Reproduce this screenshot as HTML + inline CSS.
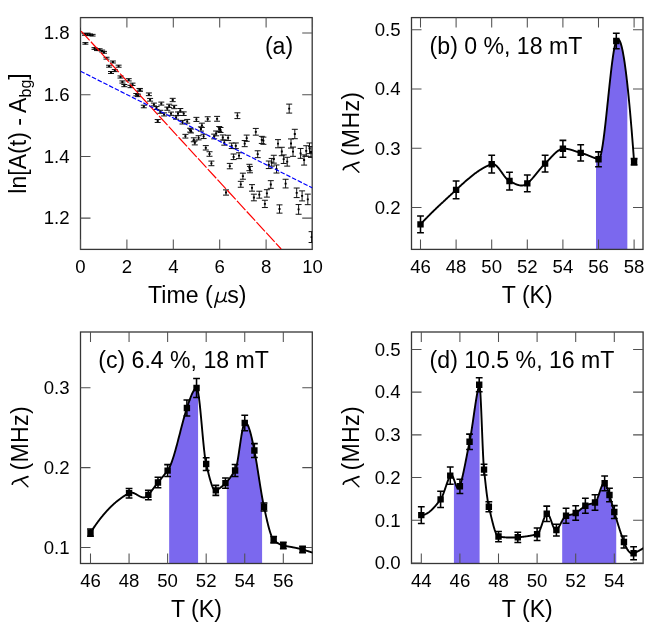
<!DOCTYPE html>
<html><head><meta charset="utf-8"><title>figure</title>
<style>html,body{margin:0;padding:0;background:#fff}svg{display:block;will-change:transform}text{font-family:"Liberation Sans", sans-serif;fill:#000}</style>
</head><body>
<svg width="664" height="631" viewBox="0 0 664 631">
<rect width="664" height="631" fill="#fff"/>
<rect x="80.5" y="17.6" width="231.7" height="231.8" fill="none" stroke="#363636" stroke-width="1.3"/>
<path d="M80.5 249.4v-10M80.5 17.6v10M126.9 249.4v-10M126.9 17.6v10M173.3 249.4v-10M173.3 17.6v10M219.7 249.4v-10M219.7 17.6v10M266.1 249.4v-10M266.1 17.6v10M312.5 249.4v-10M312.5 17.6v10M80.5 218.13h10M312.2 218.13h-10M80.5 156.4h10M312.2 156.4h-10M80.5 94.66h10M312.2 94.66h-10M80.5 32.93h10M312.2 32.93h-10" stroke="#505050" stroke-width="1.05" fill="none"/>
<g font-size="18.6" fill="#000">
<text x="80.5" y="273.2" text-anchor="middle">0</text>
<text x="126.9" y="273.2" text-anchor="middle">2</text>
<text x="173.3" y="273.2" text-anchor="middle">4</text>
<text x="219.7" y="273.2" text-anchor="middle">6</text>
<text x="266.1" y="273.2" text-anchor="middle">8</text>
<text x="312.5" y="273.2" text-anchor="middle">10</text>
<text x="69.5" y="224.38" text-anchor="end">1.2</text>
<text x="69.5" y="162.65" text-anchor="end">1.4</text>
<text x="69.5" y="100.91" text-anchor="end">1.6</text>
<text x="69.5" y="39.18" text-anchor="end">1.8</text>
</g>
<text x="212.6" y="302.7" font-size="23.1" text-anchor="end">Time (</text>
<g fill="none" stroke="#000" stroke-linecap="round">
<path d="M218.3 292.5L214.7 307.2" stroke-width="1.5"/>
<path d="M216.9 299.3Q217 302.3 219.9 302.1Q223.3 301.8 224.7 297.8" stroke-width="1.3"/>
<path d="M225.9 292.5L224.4 299.4Q224 302 226.7 301.4" stroke-width="1.3"/>
</g>
<text x="227.3" y="302.7" font-size="23.1">s)</text>
<text transform="translate(26.2 133.5) rotate(-90)" font-size="23.1" text-anchor="middle">ln[A(t) - A<tspan font-size="16" dy="5">bg</tspan><tspan dy="-5">]</tspan></text>
<clipPath id="ca"><rect x="80.5" y="17.6" width="231.7" height="231.8"/></clipPath>
<g clip-path="url(#ca)">
<path d="M85 33.72V35.28M82 33.72h6M82 35.28h6M87.5 33.7V35.3M84.5 33.7h6M84.5 35.3h6M90 33.98V35.62M87 33.98h6M87 35.62h6M92.6 34.36V36.04M89.6 34.36h6M89.6 36.04h6M85.4 42.61V44.19M82.4 42.61h6M82.4 44.19h6M94.5 47.65V49.35M91.5 47.65h6M91.5 49.35h6M97 48.83V50.57M94 48.83h6M94 50.57h6M99.6 48.81V50.59M96.6 48.81h6M96.6 50.59h6M102.1 50.09V51.91M99.1 50.09h6M99.1 51.91h6M104 51.38V53.22M101 51.38h6M101 53.22h6M106.5 57.26V59.14M103.5 57.26h6M103.5 59.14h6M112.9 61.01V62.99M109.9 61.01h6M109.9 62.99h6M109.1 65.24V67.16M106.1 65.24h6M106.1 67.16h6M118.6 65.16V67.24M115.6 65.16h6M115.6 67.24h6M114.8 69.59V71.61M111.8 69.59h6M111.8 71.61h6M111 71.52V73.48M108 71.52h6M108 73.48h6M120.5 75.94V78.06M117.5 75.94h6M117.5 78.06h6M128.7 78.66V80.94M125.7 78.66h6M125.7 80.94h6M122.4 80.92V83.08M119.4 80.92h6M119.4 83.08h6M124.3 84.5V86.7M121.3 84.5h6M121.3 86.7h6M132.5 83.13V85.47M129.5 83.13h6M129.5 85.47h6M130.5 85.35V87.65M127.5 85.35h6M127.5 87.65h6M139.5 88.45V90.95M136.5 88.45h6M136.5 90.95h6M136.3 93.49V95.91M133.3 93.49h6M133.3 95.91h6M138 94.17V96.63M135 94.17h6M135 96.63h6M140 88.75V91.25M137 88.75h6M137 91.25h6M148.9 92.95V95.65M145.9 92.95h6M145.9 95.65h6M150.1 98.43V101.17M147.1 98.43h6M147.1 101.17h6M143.8 105.21V107.79M140.8 105.21h6M140.8 107.79h6M153.9 103.09V105.91M150.9 103.09h6M150.9 105.91h6M156.5 106.56V109.44M153.5 106.56h6M153.5 109.44h6M161.3 102.1V105.1M158.3 102.1h6M158.3 105.1h6M157.7 119.54V122.46M154.7 119.54h6M154.7 122.46h6M160.3 110.31V113.29M157.3 110.31h6M157.3 113.29h6M164.1 112.86V115.94M161.1 112.86h6M161.1 115.94h6M167.3 107.12V110.28M164.3 107.12h6M164.3 110.28h6M169.2 104.19V107.41M166.2 104.19h6M166.2 107.41h6M172.7 98.34V101.66M169.7 98.34h6M169.7 101.66h6M171 112.07V115.33M168 112.07h6M168 115.33h6M174.2 105.32V108.68M171.2 105.32h6M171.2 108.68h6M176.1 115.79V119.21M173.1 115.79h6M173.1 119.21h6M178 111.97V115.43M175 111.97h6M175 115.43h6M180.3 108.53V112.07M177.3 108.53h6M177.3 112.07h6M183.7 111.88V115.52M180.7 111.88h6M180.7 115.52h6M182.5 120.4V124M179.5 120.4h6M179.5 124h6M187.2 119.43V123.17M184.2 119.43h6M184.2 123.17h6M185.4 134.35V138.05M182.4 134.35h6M182.4 138.05h6M190.1 128.28V132.12M187.1 128.28h6M187.1 132.12h6M191 129.06V132.94M188 129.06h6M188 132.94h6M193.8 137.82V141.78M190.8 137.82h6M190.8 141.78h6M194.8 140.9V144.9M191.8 140.9h6M191.8 144.9h6M196.4 117.37V121.43M193.4 117.37h6M193.4 121.43h6M198.6 135.73V139.87M195.6 135.73h6M195.6 139.87h6M200.9 126.89V131.11M197.9 126.89h6M197.9 131.11h6M201.9 123.17V127.43M198.9 123.17h6M198.9 127.43h6M203.6 134.24V138.56M200.6 134.24h6M200.6 138.56h6M205.8 145.6V150M202.8 145.6h6M202.8 150h6M207.7 116.77V121.23M204.7 116.77h6M204.7 121.23h6M214.2 134.14V138.86M211.2 134.14h6M211.2 138.86h6M216.1 131V135.8M213.1 131h6M213.1 135.8h6M217.1 116.38V121.22M214.1 116.38h6M214.1 121.22h6M219.2 126.54V131.46M216.2 126.54h6M216.2 131.46h6M220.5 127.51V132.49M217.5 127.51h6M217.5 132.49h6M209.5 151.73V156.27M206.5 151.73h6M206.5 156.27h6M211.4 161.09V165.71M208.4 161.09h6M208.4 165.71h6M222.8 134.96V140.04M219.8 134.96h6M219.8 140.04h6M228.1 135.24V140.56M225.1 135.24h6M225.1 140.56h6M224.3 140.03V145.17M221.3 140.03h6M221.3 145.17h6M231.7 143.06V148.54M228.7 143.06h6M228.7 148.54h6M235.8 142.96V148.64M232.8 142.96h6M232.8 148.64h6M233.6 154.01V159.59M230.6 154.01h6M230.6 159.59h6M239 152.78V158.62M236 152.78h6M236 158.62h6M229.8 163.4V168.8M226.8 163.4h6M226.8 168.8h6M237.4 112.82V118.58M234.4 112.82h6M234.4 118.58h6M246.7 135.08V141.32M243.7 135.08h6M243.7 141.32h6M244.7 140.54V146.66M241.7 140.54h6M241.7 146.66h6M255.8 128.43V135.17M252.8 128.43h6M252.8 135.17h6M261.8 136.35V143.45M258.8 136.35h6M258.8 143.45h6M263.4 137.1V144.3M260.4 137.1h6M260.4 144.3h6M257.7 150.77V157.63M254.7 150.77h6M254.7 157.63h6M249.4 164.31V170.69M246.4 164.31h6M246.4 170.69h6M250 166.39V172.81M247 166.39h6M247 172.81h6M268.8 161.03V168.57M265.8 161.03h6M265.8 168.57h6M273.8 155.27V163.13M270.8 155.27h6M270.8 163.13h6M278 139.63V147.77M275 139.63h6M275 147.77h6M289.2 104.12V113.08M286.2 104.12h6M286.2 113.08h6M294.8 129.3V138.7M291.8 129.3h6M291.8 138.7h6M291 138.95V148.05M288 138.95h6M288 148.05h6M281.8 147.29V155.71M278.8 147.29h6M278.8 155.71h6M293 147.07V156.33M290 147.07h6M290 156.33h6M271.7 158.44V166.16M268.7 158.44h6M268.7 166.16h6M283.7 154.92V163.48M280.7 154.92h6M280.7 163.48h6M287.2 157.29V166.11M284.2 157.29h6M284.2 166.11h6M300.6 148.46V158.34M297.6 148.46h6M297.6 158.34h6M304.1 154.91V165.09M301.1 154.91h6M301.1 165.09h6M306.2 145.72V156.08M303.2 145.72h6M303.2 156.08h6M309.5 142.97V153.63M306.5 142.97h6M306.5 153.63h6M311 146.6V157.4M308 146.6h6M308 157.4h6M276.5 164.98V173.02M273.5 164.98h6M273.5 173.02h6M226 189.89V195.11M223 189.89h6M223 195.11h6M242.9 173.18V179.22M239.9 173.18h6M239.9 179.22h6M240.8 181.34V187.26M237.8 181.34h6M237.8 187.26h6M252 184.64V191.16M249 184.64h6M249 191.16h6M253.9 194.18V200.82M250.9 194.18h6M250.9 200.82h6M259.3 191.23V198.17M256.3 191.23h6M256.3 198.17h6M266.9 189.69V197.11M263.9 189.69h6M263.9 197.11h6M270.8 180.67V188.33M267.8 180.67h6M267.8 188.33h6M264.9 200.26V207.54M261.9 200.26h6M261.9 207.54h6M279.5 204.87V213.13M276.5 204.87h6M276.5 213.13h6M285.6 179.25V187.95M282.6 179.25h6M282.6 187.95h6M296.7 188.02V197.58M293.7 188.02h6M293.7 197.58h6M302.1 190.89V200.91M299.1 190.89h6M299.1 200.91h6M307.8 194.14V204.66M304.8 194.14h6M304.8 204.66h6M298.6 204.54V214.26M295.6 204.54h6M295.6 214.26h6M311.6 231.67V242.53M308.6 231.67h6M308.6 242.53h6" stroke="#111" stroke-width="1.0" fill="none"/>
<path d="M84 33.6h2v1.8h-2zM86.5 33.6h2v1.8h-2zM89 33.9h2v1.8h-2zM91.6 34.3h2v1.8h-2zM84.4 42.5h2v1.8h-2zM93.5 47.6h2v1.8h-2zM96 48.8h2v1.8h-2zM98.6 48.8h2v1.8h-2zM101.1 50.1h2v1.8h-2zM103 51.4h2v1.8h-2zM105.5 57.3h2v1.8h-2zM111.9 61.1h2v1.8h-2zM108.1 65.3h2v1.8h-2zM117.6 65.3h2v1.8h-2zM113.8 69.7h2v1.8h-2zM110 71.6h2v1.8h-2zM119.5 76.1h2v1.8h-2zM127.7 78.9h2v1.8h-2zM121.4 81.1h2v1.8h-2zM123.3 84.7h2v1.8h-2zM131.5 83.4h2v1.8h-2zM129.5 85.6h2v1.8h-2zM138.5 88.8h2v1.8h-2zM135.3 93.8h2v1.8h-2zM137 94.5h2v1.8h-2zM139 89.1h2v1.8h-2zM147.9 93.4h2v1.8h-2zM149.1 98.9h2v1.8h-2zM142.8 105.6h2v1.8h-2zM152.9 103.6h2v1.8h-2zM155.5 107.1h2v1.8h-2zM160.3 102.7h2v1.8h-2zM156.7 120.1h2v1.8h-2zM159.3 110.9h2v1.8h-2zM163.1 113.5h2v1.8h-2zM166.3 107.8h2v1.8h-2zM168.2 104.9h2v1.8h-2zM171.7 99.1h2v1.8h-2zM170 112.8h2v1.8h-2zM173.2 106.1h2v1.8h-2zM175.1 116.6h2v1.8h-2zM177 112.8h2v1.8h-2zM179.3 109.4h2v1.8h-2zM182.7 112.8h2v1.8h-2zM181.5 121.3h2v1.8h-2zM186.2 120.4h2v1.8h-2zM184.4 135.3h2v1.8h-2zM189.1 129.3h2v1.8h-2zM190 130.1h2v1.8h-2zM192.8 138.9h2v1.8h-2zM193.8 142h2v1.8h-2zM195.4 118.5h2v1.8h-2zM197.6 136.9h2v1.8h-2zM199.9 128.1h2v1.8h-2zM200.9 124.4h2v1.8h-2zM202.6 135.5h2v1.8h-2zM204.8 146.9h2v1.8h-2zM206.7 118.1h2v1.8h-2zM213.2 135.6h2v1.8h-2zM215.1 132.5h2v1.8h-2zM216.1 117.9h2v1.8h-2zM218.2 128.1h2v1.8h-2zM219.5 129.1h2v1.8h-2zM208.5 153.1h2v1.8h-2zM210.4 162.5h2v1.8h-2zM221.8 136.6h2v1.8h-2zM227.1 137h2v1.8h-2zM223.3 141.7h2v1.8h-2zM230.7 144.9h2v1.8h-2zM234.8 144.9h2v1.8h-2zM232.6 155.9h2v1.8h-2zM238 154.8h2v1.8h-2zM228.8 165.2h2v1.8h-2zM236.4 114.8h2v1.8h-2zM245.7 137.3h2v1.8h-2zM243.7 142.7h2v1.8h-2zM254.8 130.9h2v1.8h-2zM260.8 139h2v1.8h-2zM262.4 139.8h2v1.8h-2zM256.7 153.3h2v1.8h-2zM248.4 166.6h2v1.8h-2zM249 168.7h2v1.8h-2zM267.8 163.9h2v1.8h-2zM272.8 158.3h2v1.8h-2zM277 142.8h2v1.8h-2zM288.2 107.7h2v1.8h-2zM293.8 133.1h2v1.8h-2zM290 142.6h2v1.8h-2zM280.8 150.6h2v1.8h-2zM292 150.8h2v1.8h-2zM270.7 161.4h2v1.8h-2zM282.7 158.3h2v1.8h-2zM286.2 160.8h2v1.8h-2zM299.6 152.5h2v1.8h-2zM303.1 159.1h2v1.8h-2zM305.2 150h2v1.8h-2zM308.5 147.4h2v1.8h-2zM310 151.1h2v1.8h-2zM275.5 168.1h2v1.8h-2zM225 191.6h2v1.8h-2zM241.9 175.3h2v1.8h-2zM239.8 183.4h2v1.8h-2zM251 187h2v1.8h-2zM252.9 196.6h2v1.8h-2zM258.3 193.8h2v1.8h-2zM265.9 192.5h2v1.8h-2zM269.8 183.6h2v1.8h-2zM263.9 203h2v1.8h-2zM278.5 208.1h2v1.8h-2zM284.6 182.7h2v1.8h-2zM295.7 191.9h2v1.8h-2zM301.1 195h2v1.8h-2zM306.8 198.5h2v1.8h-2zM297.6 208.5h2v1.8h-2zM310.6 236.2h2v1.8h-2z" fill="#000"/>
<line x1="80.5" y1="30.46" x2="281.18" y2="249" stroke="#ff0000" stroke-width="1.2" stroke-dasharray="12.5 1.9" stroke-dashoffset="13.45"/>
<line x1="80.5" y1="71.21" x2="312.5" y2="188.01" stroke="#0000ff" stroke-width="1.2" stroke-dasharray="4.6 1.8"/>
</g>
<text x="264.9" y="53.6" font-size="23.1">(a)</text>
<clipPath id="cb"><rect x="411.5" y="17.6" width="231.5" height="231.8"/></clipPath>
<path d="M596.01 249.4L596.01 158.46L596.4 158.6L596.8 158.74L597.2 158.87L597.59 158.99L597.99 159.12L598.39 159.24L598.78 159.27L599.18 159L599.58 158.43L599.97 157.56L600.37 156.42L600.77 155.02L601.16 153.37L601.56 151.49L601.96 149.38L602.35 147.07L602.75 144.56L603.15 141.87L603.54 139.01L603.94 136L604.34 132.85L604.73 129.58L605.13 126.19L605.53 122.7L605.92 119.13L606.32 115.49L606.72 111.79L607.11 108.05L607.51 104.27L607.9 100.48L608.3 96.68L608.7 92.9L609.09 89.14L609.49 85.42L609.89 81.74L610.28 78.14L610.68 74.61L611.08 71.17L611.47 67.84L611.87 64.63L612.27 61.55L612.66 58.62L613.06 55.85L613.46 53.25L613.85 50.84L614.25 48.64L614.65 46.64L615.04 44.88L615.44 43.35L615.84 42.09L616.23 41.09L616.63 40.34L617.03 39.79L617.42 39.42L617.82 39.24L618.22 39.25L618.61 39.43L619.01 39.8L619.4 40.34L619.8 41.05L620.2 41.94L620.59 42.99L620.99 44.21L621.39 45.6L621.78 47.14L622.18 48.85L622.58 50.71L622.97 52.73L623.37 54.89L623.77 57.21L624.16 59.67L624.56 62.28L624.96 65.03L625.35 67.91L625.75 70.94L626.15 74.09L626.54 77.38L626.94 80.8L627.34 84.34L627.34 249.4z" fill="#7b68ee"/>
<rect x="411.5" y="17.6" width="231.5" height="231.8" fill="none" stroke="#363636" stroke-width="1.3"/>
<path d="M420.5 249.4v-10M420.5 17.6v10M456.1 249.4v-10M456.1 17.6v10M491.7 249.4v-10M491.7 17.6v10M527.3 249.4v-10M527.3 17.6v10M562.9 249.4v-10M562.9 17.6v10M598.5 249.4v-10M598.5 17.6v10M634.1 249.4v-10M634.1 17.6v10M411.5 207.5h10M643 207.5h-10M411.5 148.25h10M643 148.25h-10M411.5 89h10M643 89h-10M411.5 29.75h10M643 29.75h-10" stroke="#505050" stroke-width="1.05" fill="none"/>
<g font-size="18.6" fill="#000">
<text x="420.5" y="273.2" text-anchor="middle">46</text>
<text x="456.1" y="273.2" text-anchor="middle">48</text>
<text x="491.7" y="273.2" text-anchor="middle">50</text>
<text x="527.3" y="273.2" text-anchor="middle">52</text>
<text x="562.9" y="273.2" text-anchor="middle">54</text>
<text x="598.5" y="273.2" text-anchor="middle">56</text>
<text x="634.1" y="273.2" text-anchor="middle">58</text>
<text x="400.5" y="213.75" text-anchor="end">0.2</text>
<text x="400.5" y="154.5" text-anchor="end">0.3</text>
<text x="400.5" y="95.25" text-anchor="end">0.4</text>
<text x="400.5" y="36" text-anchor="end">0.5</text>
</g>
<text x="527.25" y="302.7" font-size="23.1" text-anchor="middle">T (K)</text>
<g transform="translate(0 0)" fill="none" stroke="#000" stroke-linecap="round">
<path d="M343.3 169.7Q343.5 167.7 345.6 166.9L358.9 162.3" stroke-width="1.75"/>
<path d="M352 165.7L358.9 172.3" stroke-width="1.35"/>
</g>
<text transform="translate(358.6 156.2) rotate(-90)" font-size="23.1" letter-spacing="0.35">(MHz)</text>
<path clip-path="url(#cb)" d="M420.5 224.33L420.81 223.99L421.11 223.66L421.42 223.33L421.72 223L422.03 222.67L422.33 222.34L422.64 222.02L422.94 221.69L423.25 221.37L423.56 221.04L423.86 220.72L424.17 220.4L424.47 220.08L424.78 219.76L425.08 219.44L425.39 219.12L425.69 218.8L426 218.49L426.31 218.17L426.61 217.86L426.92 217.55L427.22 217.23L427.53 216.92L427.83 216.61L428.14 216.3L428.45 215.99L428.75 215.68L429.06 215.38L429.36 215.07L429.67 214.76L429.97 214.46L430.28 214.15L430.58 213.85L430.89 213.55L431.2 213.25L431.5 212.94L431.81 212.64L432.11 212.34L432.42 212.04L432.72 211.75L433.03 211.45L433.33 211.15L433.64 210.85L433.95 210.56L434.25 210.26L434.56 209.97L434.86 209.67L435.17 209.38L435.47 209.08L435.78 208.79L436.08 208.5L436.39 208.21L436.7 207.91L437 207.62L437.31 207.33L437.61 207.04L437.92 206.75L438.22 206.46L438.53 206.17L438.83 205.89L439.14 205.6L439.45 205.31L439.75 205.02L440.06 204.74L440.36 204.45L440.67 204.16L440.97 203.88L441.28 203.59L441.58 203.31L441.89 203.02L442.2 202.74L442.5 202.45L442.81 202.17L443.11 201.88L443.42 201.6L443.72 201.31L444.03 201.03L444.34 200.75L444.64 200.46L444.95 200.18L445.25 199.9L445.56 199.62L445.86 199.33L446.17 199.05L446.47 198.77L446.78 198.49L447.09 198.2L447.39 197.92L447.7 197.64L448 197.36L448.31 197.07L448.61 196.79L448.92 196.51L449.22 196.23L449.53 195.94L449.84 195.66L450.14 195.38L450.45 195.1L450.75 194.81L451.06 194.53L451.36 194.25L451.67 193.97L451.97 193.68L452.28 193.4L452.59 193.12L452.89 192.83L453.2 192.55L453.5 192.27L453.81 191.98L454.11 191.7L454.42 191.41L454.72 191.13L455.03 190.84L455.34 190.56L455.64 190.27L455.95 189.99L456.25 189.7L456.56 189.41L456.86 189.13L457.17 188.84L457.48 188.56L457.78 188.27L458.09 187.99L458.39 187.71L458.7 187.42L459 187.14L459.31 186.86L459.61 186.57L459.92 186.29L460.23 186.01L460.53 185.73L460.84 185.45L461.14 185.17L461.45 184.89L461.75 184.61L462.06 184.34L462.36 184.06L462.67 183.78L462.98 183.51L463.28 183.23L463.59 182.96L463.89 182.68L464.2 182.41L464.5 182.14L464.81 181.87L465.11 181.6L465.42 181.33L465.73 181.06L466.03 180.8L466.34 180.53L466.64 180.27L466.95 180L467.25 179.74L467.56 179.48L467.86 179.22L468.17 178.96L468.48 178.7L468.78 178.44L469.09 178.19L469.39 177.93L469.7 177.68L470 177.42L470.31 177.17L470.62 176.92L470.92 176.68L471.23 176.43L471.53 176.18L471.84 175.94L472.14 175.7L472.45 175.45L472.75 175.21L473.06 174.98L473.37 174.74L473.67 174.5L473.98 174.27L474.28 174.04L474.59 173.81L474.89 173.58L475.2 173.35L475.5 173.13L475.81 172.9L476.12 172.68L476.42 172.46L476.73 172.24L477.03 172.02L477.34 171.81L477.64 171.6L477.95 171.38L478.25 171.17L478.56 170.97L478.87 170.76L479.17 170.56L479.48 170.36L479.78 170.16L480.09 169.96L480.39 169.76L480.7 169.57L481 169.38L481.31 169.19L481.62 169L481.92 168.82L482.23 168.64L482.53 168.46L482.84 168.28L483.14 168.1L483.45 167.93L483.75 167.76L484.06 167.59L484.37 167.42L484.67 167.26L484.98 167.09L485.28 166.93L485.59 166.78L485.89 166.62L486.2 166.47L486.51 166.32L486.81 166.17L487.12 166.03L487.42 165.89L487.73 165.75L488.03 165.61L488.34 165.48L488.64 165.35L488.95 165.22L489.26 165.09L489.56 164.97L489.87 164.85L490.17 164.73L490.48 164.62L490.78 164.51L491.09 164.4L491.39 164.29L491.7 164.19L492.01 164.1L492.31 164.05L492.62 164.02L492.92 164.03L493.23 164.06L493.53 164.12L493.84 164.2L494.14 164.31L494.45 164.45L494.76 164.6L495.06 164.79L495.37 164.99L495.67 165.21L495.98 165.45L496.28 165.71L496.59 165.99L496.89 166.28L497.2 166.59L497.51 166.92L497.81 167.26L498.12 167.61L498.42 167.97L498.73 168.35L499.03 168.73L499.34 169.13L499.65 169.53L499.95 169.94L500.26 170.35L500.56 170.77L500.87 171.2L501.17 171.63L501.48 172.06L501.78 172.49L502.09 172.92L502.4 173.36L502.7 173.79L503.01 174.22L503.31 174.64L503.62 175.06L503.92 175.48L504.23 175.89L504.53 176.3L504.84 176.69L505.15 177.08L505.45 177.46L505.76 177.82L506.06 178.18L506.37 178.52L506.67 178.85L506.98 179.16L507.28 179.46L507.59 179.74L507.9 180.01L508.2 180.25L508.51 180.48L508.81 180.69L509.12 180.87L509.42 181.04L509.73 181.18L510.03 181.33L510.34 181.49L510.65 181.64L510.95 181.79L511.26 181.95L511.56 182.1L511.87 182.26L512.17 182.41L512.48 182.57L512.78 182.72L513.09 182.87L513.4 183.03L513.7 183.18L514.01 183.33L514.31 183.47L514.62 183.62L514.92 183.76L515.23 183.9L515.54 184.03L515.84 184.16L516.15 184.29L516.45 184.41L516.76 184.53L517.06 184.64L517.37 184.75L517.67 184.85L517.98 184.95L518.29 185.03L518.59 185.12L518.9 185.19L519.2 185.26L519.51 185.32L519.81 185.38L520.12 185.42L520.42 185.46L520.73 185.49L521.04 185.51L521.34 185.52L521.65 185.52L521.95 185.51L522.26 185.49L522.56 185.45L522.87 185.41L523.17 185.36L523.48 185.3L523.79 185.22L524.09 185.13L524.4 185.03L524.7 184.91L525.01 184.79L525.31 184.65L525.62 184.49L525.92 184.32L526.23 184.14L526.54 183.94L526.84 183.73L527.15 183.5L527.45 183.26L527.76 183.01L528.06 182.75L528.37 182.49L528.68 182.21L528.98 181.93L529.29 181.64L529.59 181.35L529.9 181.05L530.2 180.74L530.51 180.43L530.81 180.11L531.12 179.79L531.43 179.46L531.73 179.12L532.04 178.79L532.34 178.44L532.65 178.1L532.95 177.75L533.26 177.39L533.56 177.04L533.87 176.68L534.18 176.31L534.48 175.95L534.79 175.58L535.09 175.21L535.4 174.84L535.7 174.47L536.01 174.09L536.31 173.72L536.62 173.34L536.93 172.96L537.23 172.59L537.54 172.21L537.84 171.83L538.15 171.46L538.45 171.08L538.76 170.71L539.06 170.34L539.37 169.96L539.68 169.59L539.98 169.23L540.29 168.86L540.59 168.5L540.9 168.14L541.2 167.78L541.51 167.43L541.82 167.07L542.12 166.73L542.43 166.39L542.73 166.05L543.04 165.71L543.34 165.38L543.65 165.06L543.95 164.74L544.26 164.43L544.57 164.12L544.87 163.82L545.18 163.52L545.48 163.22L545.79 162.92L546.09 162.62L546.4 162.31L546.7 161.99L547.01 161.68L547.32 161.36L547.62 161.04L547.93 160.71L548.23 160.39L548.54 160.06L548.84 159.73L549.15 159.4L549.45 159.07L549.76 158.74L550.07 158.41L550.37 158.08L550.68 157.75L550.98 157.42L551.29 157.09L551.59 156.76L551.9 156.44L552.2 156.12L552.51 155.8L552.82 155.48L553.12 155.17L553.43 154.86L553.73 154.55L554.04 154.25L554.34 153.95L554.65 153.66L554.95 153.38L555.26 153.09L555.57 152.82L555.87 152.55L556.18 152.29L556.48 152.03L556.79 151.78L557.09 151.54L557.4 151.3L557.71 151.08L558.01 150.86L558.32 150.65L558.62 150.45L558.93 150.26L559.23 150.08L559.54 149.91L559.84 149.75L560.15 149.6L560.46 149.46L560.76 149.33L561.07 149.22L561.37 149.11L561.68 149.02L561.98 148.94L562.29 148.88L562.59 148.82L562.9 148.78L563.21 148.75L563.51 148.73L563.82 148.72L564.12 148.71L564.43 148.7L564.73 148.7L565.04 148.71L565.34 148.73L565.65 148.75L565.96 148.77L566.26 148.8L566.57 148.84L566.87 148.88L567.18 148.92L567.48 148.97L567.79 149.02L568.09 149.08L568.4 149.14L568.71 149.21L569.01 149.28L569.32 149.35L569.62 149.42L569.93 149.5L570.23 149.58L570.54 149.67L570.85 149.75L571.15 149.84L571.46 149.94L571.76 150.03L572.07 150.12L572.37 150.22L572.68 150.32L572.98 150.42L573.29 150.52L573.6 150.62L573.9 150.73L574.21 150.83L574.51 150.93L574.82 151.04L575.12 151.14L575.43 151.25L575.73 151.35L576.04 151.45L576.35 151.56L576.65 151.66L576.96 151.76L577.26 151.86L577.57 151.96L577.87 152.06L578.18 152.16L578.48 152.25L578.79 152.35L579.1 152.44L579.4 152.52L579.71 152.61L580.01 152.69L580.32 152.77L580.62 152.85L580.93 152.93L581.23 153.01L581.54 153.09L581.85 153.17L582.15 153.26L582.46 153.35L582.76 153.45L583.07 153.54L583.37 153.64L583.68 153.74L583.98 153.84L584.29 153.94L584.6 154.05L584.9 154.16L585.21 154.27L585.51 154.38L585.82 154.49L586.12 154.6L586.43 154.72L586.74 154.83L587.04 154.95L587.35 155.07L587.65 155.19L587.96 155.31L588.26 155.43L588.57 155.55L588.87 155.68L589.18 155.8L589.49 155.92L589.79 156.05L590.1 156.17L590.4 156.29L590.71 156.42L591.01 156.54L591.32 156.67L591.62 156.79L591.93 156.91L592.24 157.03L592.54 157.16L592.85 157.28L593.15 157.4L593.46 157.52L593.76 157.63L594.07 157.75L594.37 157.87L594.68 157.98L594.99 158.1L595.29 158.21L595.6 158.32L595.9 158.43L596.21 158.53L596.51 158.64L596.82 158.74L597.12 158.84L597.43 158.94L597.74 159.04L598.04 159.13L598.35 159.23L598.65 159.29L598.96 159.19L599.26 158.9L599.57 158.44L599.88 157.8L600.18 157L600.49 156.04L600.79 154.92L601.1 153.66L601.4 152.26L601.71 150.72L602.01 149.06L602.32 147.27L602.63 145.36L602.93 143.35L603.24 141.23L603.54 139.02L603.85 136.71L604.15 134.32L604.46 131.85L604.76 129.31L605.07 126.7L605.38 124.03L605.68 121.31L605.99 118.54L606.29 115.73L606.6 112.89L606.9 110.02L607.21 107.12L607.51 104.21L607.82 101.29L608.13 98.36L608.43 95.44L608.74 92.53L609.04 89.63L609.35 86.75L609.65 83.9L609.96 81.09L610.26 78.31L610.57 75.58L610.88 72.9L611.18 70.28L611.49 67.73L611.79 65.25L612.1 62.84L612.4 60.52L612.71 58.29L613.02 56.16L613.32 54.12L613.63 52.2L613.93 50.39L614.24 48.7L614.54 47.14L614.85 45.71L615.15 44.42L615.46 43.28L615.77 42.29L616.07 41.46L616.38 40.8L616.68 40.26L616.99 39.83L617.29 39.52L617.6 39.32L617.9 39.23L618.21 39.25L618.52 39.37L618.82 39.6L619.13 39.94L619.43 40.38L619.74 40.93L620.04 41.57L620.35 42.32L620.65 43.17L620.96 44.11L621.27 45.16L621.57 46.29L621.88 47.53L622.18 48.86L622.49 50.28L622.79 51.79L623.1 53.4L623.4 55.09L623.71 56.87L624.02 58.74L624.32 60.69L624.63 62.73L624.93 64.86L625.24 67.06L625.54 69.35L625.85 71.72L626.15 74.16L626.46 76.69L626.77 79.29L627.07 81.97L627.38 84.72L627.68 87.54L627.99 90.44L628.29 93.41L628.6 96.45L628.91 99.56L629.21 102.73L629.52 105.97L629.82 109.28L630.13 112.65L630.43 116.09L630.74 119.59L631.04 123.14L631.35 126.76L631.66 130.44L631.96 134.17L632.27 137.96L632.57 141.81L632.88 145.7L633.18 149.66L633.49 153.66L633.79 157.71L634.1 161.82" fill="none" stroke="#000" stroke-width="1.9" stroke-linejoin="round"/>
<path d="M420.5 215.91V232.74M417.1 215.91h6.8M417.1 232.74h6.8M456.1 180.96V198.73M452.7 180.96h6.8M452.7 198.73h6.8M491.7 155.3V173.08M488.3 155.3h6.8M488.3 173.08h6.8M509.5 172.19V189.96M506.1 172.19h6.8M506.1 189.96h6.8M527.3 174.97V191.8M523.9 174.97h6.8M523.9 191.8h6.8M545.1 155.18V172.01M541.7 155.18h6.8M541.7 172.01h6.8M562.9 140.37V157.2M559.5 140.37h6.8M559.5 157.2h6.8M580.7 144.75V160.99M577.3 144.75h6.8M577.3 160.99h6.8M598.5 151.86V166.68M595.1 151.86h6.8M595.1 166.68h6.8M616.3 33.25V48.65M612.9 33.25h6.8M612.9 48.65h6.8M634.1 158.62V165.02M630.7 158.62h6.8M630.7 165.02h6.8" stroke="#000" stroke-width="1.55" fill="none"/>
<path d="M417.3 221.13h6.4v6.4h-6.4zM452.9 186.64h6.4v6.4h-6.4zM488.5 160.99h6.4v6.4h-6.4zM506.3 177.87h6.4v6.4h-6.4zM524.1 180.19h6.4v6.4h-6.4zM541.9 160.4h6.4v6.4h-6.4zM559.7 145.58h6.4v6.4h-6.4zM577.5 149.67h6.4v6.4h-6.4zM595.3 156.07h6.4v6.4h-6.4zM613.1 37.75h6.4v6.4h-6.4zM630.9 158.62h6.4v6.4h-6.4z" fill="#000"/>
<text x="429.6" y="53.9" font-size="23.1">(b) 0 %, 18 mT</text>
<clipPath id="cc"><rect x="80.5" y="332" width="231.8" height="231.5"/></clipPath>
<path d="M169.16 563.5L169.16 468.08L169.53 467.35L169.89 466.57L170.26 465.75L170.63 464.88L170.99 463.97L171.36 463.02L171.72 462.03L172.09 461.01L172.46 459.94L172.82 458.85L173.19 457.72L173.56 456.56L173.92 455.37L174.29 454.15L174.65 452.91L175.02 451.65L175.39 450.36L175.75 449.05L176.12 447.72L176.48 446.38L176.85 445.02L177.22 443.64L177.58 442.26L177.95 440.86L178.31 439.45L178.68 438.04L179.05 436.62L179.41 435.2L179.78 433.77L180.14 432.35L180.51 430.93L180.88 429.5L181.24 428.09L181.61 426.68L181.98 425.28L182.34 423.88L182.71 422.5L183.07 421.13L183.44 419.78L183.81 418.44L184.17 417.12L184.54 415.82L184.9 414.54L185.27 413.29L185.64 412.06L186 410.85L186.37 409.68L186.73 408.53L187.1 407.41L187.47 406.3L187.83 405.2L188.2 404.1L188.56 403.02L188.93 401.95L189.3 400.9L189.66 399.88L190.03 398.87L190.39 397.9L190.76 396.95L191.13 396.03L191.49 395.15L191.86 394.3L192.23 393.5L192.59 392.74L192.96 392.02L193.32 391.35L193.69 390.74L194.06 390.17L194.42 389.67L194.79 389.22L195.15 388.84L195.52 388.52L195.89 388.26L196.25 388.08L196.62 387.98L196.98 388.28L197.35 389.09L197.72 390.38L198.08 392.1L198.08 563.5z" fill="#7b68ee"/>
<path d="M226.81 563.5L226.81 481.71L227.26 481.2L227.7 480.68L228.15 480.15L228.6 479.61L229.04 479.06L229.49 478.5L229.94 477.92L230.38 477.33L230.83 476.73L231.28 476.12L231.72 475.5L232.17 474.88L232.62 474.24L233.06 473.59L233.51 472.93L233.96 472.26L234.4 471.58L234.85 470.9L235.3 470.16L235.74 469.06L236.19 467.57L236.64 465.73L237.08 463.58L237.53 461.17L237.97 458.55L238.42 455.75L238.87 452.82L239.31 449.81L239.76 446.75L240.21 443.7L240.65 440.7L241.1 437.79L241.55 435.01L241.99 432.41L242.44 430.03L242.89 427.92L243.33 426.12L243.78 424.67L244.23 423.62L244.67 423.02L245.12 422.79L245.57 422.75L246.01 422.9L246.46 423.22L246.91 423.72L247.35 424.37L247.8 425.19L248.25 426.15L248.69 427.25L249.14 428.49L249.59 429.85L250.03 431.34L250.48 432.93L250.93 434.64L251.37 436.43L251.82 438.32L252.27 440.3L252.71 442.35L253.16 444.47L253.61 446.65L254.05 448.89L254.5 451.17L254.95 453.55L255.39 456.02L255.84 458.58L256.29 461.22L256.73 463.92L257.18 466.67L257.63 469.46L258.07 472.27L258.52 475.11L258.97 477.95L259.41 480.79L259.86 483.61L260.31 486.4L260.75 489.15L261.2 491.85L261.65 494.49L262.09 497.06L262.09 563.5z" fill="#7b68ee"/>
<rect x="80.5" y="332" width="231.8" height="231.5" fill="none" stroke="#363636" stroke-width="1.3"/>
<path d="M90.5 563.5v-10M90.5 332v10M129.06 563.5v-10M129.06 332v10M167.62 563.5v-10M167.62 332v10M206.18 563.5v-10M206.18 332v10M244.74 563.5v-10M244.74 332v10M283.3 563.5v-10M283.3 332v10M80.5 547.4h10M312.3 547.4h-10M80.5 467.6h10M312.3 467.6h-10M80.5 387.8h10M312.3 387.8h-10" stroke="#505050" stroke-width="1.05" fill="none"/>
<g font-size="18.6" fill="#000">
<text x="90.5" y="587.2" text-anchor="middle">46</text>
<text x="129.06" y="587.2" text-anchor="middle">48</text>
<text x="167.62" y="587.2" text-anchor="middle">50</text>
<text x="206.18" y="587.2" text-anchor="middle">52</text>
<text x="244.74" y="587.2" text-anchor="middle">54</text>
<text x="283.3" y="587.2" text-anchor="middle">56</text>
<text x="69.5" y="553.65" text-anchor="end">0.1</text>
<text x="69.5" y="473.85" text-anchor="end">0.2</text>
<text x="69.5" y="394.05" text-anchor="end">0.3</text>
</g>
<text x="196.4" y="616.7" font-size="23.1" text-anchor="middle">T (K)</text>
<g transform="translate(-331 314.4)" fill="none" stroke="#000" stroke-linecap="round">
<path d="M343.3 169.7Q343.5 167.7 345.6 166.9L358.9 162.3" stroke-width="1.75"/>
<path d="M352 165.7L358.9 172.3" stroke-width="1.35"/>
</g>
<text transform="translate(27.6 470.6) rotate(-90)" font-size="23.1" letter-spacing="0.35">(MHz)</text>
<path clip-path="url(#cc)" d="M90.5 532.68L90.83 532.16L91.16 531.64L91.49 531.12L91.82 530.61L92.15 530.1L92.49 529.6L92.82 529.1L93.15 528.6L93.48 528.11L93.81 527.61L94.14 527.13L94.47 526.64L94.8 526.16L95.13 525.69L95.46 525.21L95.8 524.74L96.13 524.27L96.46 523.81L96.79 523.35L97.12 522.89L97.45 522.44L97.78 521.99L98.11 521.54L98.44 521.1L98.77 520.66L99.11 520.22L99.44 519.79L99.77 519.35L100.1 518.93L100.43 518.5L100.76 518.08L101.09 517.66L101.42 517.25L101.75 516.84L102.08 516.43L102.42 516.03L102.75 515.62L103.08 515.23L103.41 514.83L103.74 514.44L104.07 514.05L104.4 513.66L104.73 513.28L105.06 512.9L105.39 512.53L105.73 512.15L106.06 511.78L106.39 511.41L106.72 511.05L107.05 510.69L107.38 510.33L107.71 509.98L108.04 509.63L108.37 509.28L108.7 508.93L109.04 508.59L109.37 508.25L109.7 507.91L110.03 507.58L110.36 507.25L110.69 506.92L111.02 506.6L111.35 506.27L111.68 505.96L112.01 505.64L112.35 505.33L112.68 505.02L113.01 504.71L113.34 504.41L113.67 504.11L114 503.81L114.33 503.51L114.66 503.22L114.99 502.93L115.32 502.64L115.66 502.36L115.99 502.08L116.32 501.8L116.65 501.53L116.98 501.25L117.31 500.98L117.64 500.72L117.97 500.45L118.3 500.19L118.63 499.93L118.96 499.68L119.3 499.42L119.63 499.17L119.96 498.93L120.29 498.68L120.62 498.44L120.95 498.2L121.28 497.96L121.61 497.73L121.94 497.5L122.27 497.27L122.61 497.05L122.94 496.82L123.27 496.6L123.6 496.38L123.93 496.17L124.26 495.96L124.59 495.75L124.92 495.54L125.25 495.34L125.58 495.13L125.92 494.93L126.25 494.74L126.58 494.54L126.91 494.35L127.24 494.16L127.57 493.98L127.9 493.79L128.23 493.61L128.56 493.43L128.89 493.25L129.23 493.08L129.56 492.94L129.89 492.82L130.22 492.73L130.55 492.66L130.88 492.62L131.21 492.6L131.54 492.6L131.87 492.62L132.2 492.66L132.54 492.72L132.87 492.8L133.2 492.89L133.53 493L133.86 493.12L134.19 493.25L134.52 493.4L134.85 493.55L135.18 493.72L135.51 493.89L135.85 494.07L136.18 494.25L136.51 494.44L136.84 494.64L137.17 494.83L137.5 495.03L137.83 495.22L138.16 495.42L138.49 495.61L138.82 495.81L139.16 495.99L139.49 496.17L139.82 496.35L140.15 496.51L140.48 496.67L140.81 496.82L141.14 496.95L141.47 497.08L141.8 497.19L142.13 497.28L142.46 497.36L142.8 497.42L143.13 497.47L143.46 497.49L143.79 497.5L144.12 497.48L144.45 497.45L144.78 497.38L145.11 497.3L145.44 497.18L145.77 497.04L146.11 496.88L146.44 496.68L146.77 496.45L147.1 496.19L147.43 495.9L147.76 495.57L148.09 495.21L148.42 494.81L148.75 494.41L149.08 493.99L149.42 493.58L149.75 493.16L150.08 492.74L150.41 492.32L150.74 491.9L151.07 491.47L151.4 491.05L151.73 490.62L152.06 490.19L152.39 489.76L152.73 489.33L153.06 488.9L153.39 488.46L153.72 488.03L154.05 487.6L154.38 487.17L154.71 486.73L155.04 486.3L155.37 485.87L155.7 485.44L156.04 485.01L156.37 484.58L156.7 484.15L157.03 483.73L157.36 483.3L157.69 482.88L158.02 482.46L158.35 482.04L158.68 481.63L159.01 481.22L159.35 480.81L159.68 480.4L160.01 480L160.34 479.59L160.67 479.19L161 478.79L161.33 478.39L161.66 477.99L161.99 477.59L162.32 477.19L162.66 476.79L162.99 476.39L163.32 475.99L163.65 475.59L163.98 475.18L164.31 474.78L164.64 474.37L164.97 473.96L165.3 473.55L165.63 473.14L165.97 472.72L166.3 472.3L166.63 471.88L166.96 471.45L167.29 471.02L167.62 470.59L167.95 470.13L168.28 469.63L168.61 469.08L168.94 468.49L169.27 467.86L169.61 467.19L169.94 466.48L170.27 465.73L170.6 464.95L170.93 464.13L171.26 463.28L171.59 462.4L171.92 461.48L172.25 460.54L172.58 459.56L172.92 458.56L173.25 457.54L173.58 456.49L173.91 455.41L174.24 454.31L174.57 453.2L174.9 452.06L175.23 450.9L175.56 449.72L175.89 448.53L176.23 447.33L176.56 446.11L176.89 444.88L177.22 443.63L177.55 442.38L177.88 441.12L178.21 439.85L178.54 438.57L178.87 437.29L179.2 436.01L179.54 434.72L179.87 433.43L180.2 432.14L180.53 430.86L180.86 429.57L181.19 428.29L181.52 427.01L181.85 425.74L182.18 424.48L182.51 423.23L182.85 421.98L183.18 420.75L183.51 419.53L183.84 418.32L184.17 417.13L184.5 415.95L184.83 414.79L185.16 413.65L185.49 412.53L185.82 411.43L186.16 410.36L186.49 409.3L186.82 408.28L187.15 407.27L187.48 406.26L187.81 405.26L188.14 404.27L188.47 403.29L188.8 402.32L189.13 401.37L189.47 400.43L189.8 399.51L190.13 398.61L190.46 397.73L190.79 396.88L191.12 396.05L191.45 395.25L191.78 394.48L192.11 393.74L192.44 393.04L192.78 392.37L193.11 391.74L193.44 391.16L193.77 390.61L194.1 390.11L194.43 389.66L194.76 389.25L195.09 388.9L195.42 388.59L195.75 388.35L196.08 388.15L196.42 388.02L196.75 388.03L197.08 388.44L197.41 389.27L197.74 390.48L198.07 392.04L198.4 393.94L198.73 396.13L199.06 398.59L199.39 401.29L199.73 404.22L200.06 407.32L200.39 410.59L200.72 413.99L201.05 417.49L201.38 421.07L201.71 424.69L202.04 428.33L202.37 431.97L202.7 435.56L203.04 439.1L203.37 442.54L203.7 445.86L204.03 449.03L204.36 452.02L204.69 454.81L205.02 457.36L205.35 459.66L205.68 461.66L206.01 463.35L206.35 464.74L206.68 466.1L207.01 467.46L207.34 468.81L207.67 470.17L208 471.51L208.33 472.85L208.66 474.16L208.99 475.46L209.32 476.73L209.66 477.97L209.99 479.18L210.32 480.35L210.65 481.47L210.98 482.55L211.31 483.58L211.64 484.56L211.97 485.47L212.3 486.33L212.63 487.11L212.97 487.83L213.3 488.46L213.63 489.02L213.96 489.49L214.29 489.88L214.62 490.17L214.95 490.37L215.28 490.46L215.61 490.45L215.94 490.33L216.28 490.19L216.61 490.04L216.94 489.88L217.27 489.71L217.6 489.53L217.93 489.34L218.26 489.14L218.59 488.94L218.92 488.73L219.25 488.51L219.58 488.28L219.92 488.05L220.25 487.81L220.58 487.56L220.91 487.3L221.24 487.04L221.57 486.77L221.9 486.49L222.23 486.21L222.56 485.92L222.89 485.63L223.23 485.32L223.56 485.02L223.89 484.71L224.22 484.39L224.55 484.06L224.88 483.74L225.21 483.4L225.54 483.06L225.87 482.72L226.2 482.37L226.54 482.01L226.87 481.64L227.2 481.27L227.53 480.89L227.86 480.5L228.19 480.11L228.52 479.7L228.85 479.3L229.18 478.88L229.51 478.46L229.85 478.04L230.18 477.6L230.51 477.16L230.84 476.72L231.17 476.27L231.5 475.81L231.83 475.35L232.16 474.88L232.49 474.41L232.82 473.93L233.16 473.45L233.49 472.96L233.82 472.47L234.15 471.97L234.48 471.47L234.81 470.96L235.14 470.44L235.47 469.78L235.8 468.88L236.13 467.77L236.47 466.47L236.8 464.98L237.13 463.35L237.46 461.56L237.79 459.66L238.12 457.65L238.45 455.56L238.78 453.39L239.11 451.18L239.44 448.93L239.78 446.66L240.11 444.4L240.44 442.15L240.77 439.95L241.1 437.8L241.43 435.72L241.76 433.74L242.09 431.87L242.42 430.12L242.75 428.52L243.09 427.08L243.42 425.82L243.75 424.77L244.08 423.93L244.41 423.32L244.74 422.97L245.07 422.8L245.4 422.74L245.73 422.78L246.06 422.92L246.39 423.16L246.73 423.5L247.06 423.92L247.39 424.43L247.72 425.03L248.05 425.71L248.38 426.47L248.71 427.3L249.04 428.21L249.37 429.19L249.7 430.23L250.04 431.35L250.37 432.52L250.7 433.75L251.03 435.04L251.36 436.38L251.69 437.77L252.02 439.21L252.35 440.69L252.68 442.21L253.01 443.77L253.35 445.37L253.68 447L254.01 448.66L254.34 450.34L254.67 452.07L255 453.85L255.33 455.68L255.66 457.56L255.99 459.49L256.32 461.45L256.66 463.45L256.99 465.47L257.32 467.53L257.65 469.6L257.98 471.69L258.31 473.78L258.64 475.89L258.97 478L259.3 480.1L259.63 482.19L259.97 484.28L260.3 486.34L260.63 488.39L260.96 490.41L261.29 492.39L261.62 494.35L261.95 496.26L262.28 498.12L262.61 499.94L262.94 501.7L263.28 503.41L263.61 505.05L263.94 506.62L264.27 508.14L264.6 509.66L264.93 511.17L265.26 512.67L265.59 514.17L265.92 515.65L266.25 517.12L266.59 518.57L266.92 520L267.25 521.41L267.58 522.78L267.91 524.13L268.24 525.44L268.57 526.72L268.9 527.96L269.23 529.16L269.56 530.31L269.9 531.42L270.23 532.47L270.56 533.48L270.89 534.42L271.22 535.31L271.55 536.14L271.88 536.9L272.21 537.59L272.54 538.21L272.87 538.76L273.2 539.23L273.54 539.63L273.87 539.95L274.2 540.27L274.53 540.57L274.86 540.86L275.19 541.15L275.52 541.42L275.85 541.69L276.18 541.95L276.51 542.2L276.85 542.45L277.18 542.68L277.51 542.9L277.84 543.12L278.17 543.33L278.5 543.53L278.83 543.72L279.16 543.9L279.49 544.07L279.82 544.24L280.16 544.4L280.49 544.55L280.82 544.69L281.15 544.82L281.48 544.94L281.81 545.06L282.14 545.17L282.47 545.27L282.8 545.36L283.13 545.44L283.47 545.52L283.8 545.59L284.13 545.66L284.46 545.73L284.79 545.8L285.12 545.87L285.45 545.94L285.78 546L286.11 546.07L286.44 546.13L286.78 546.2L287.11 546.26L287.44 546.32L287.77 546.39L288.1 546.45L288.43 546.51L288.76 546.57L289.09 546.63L289.42 546.69L289.75 546.75L290.09 546.81L290.42 546.87L290.75 546.93L291.08 546.99L291.41 547.05L291.74 547.11L292.07 547.17L292.4 547.23L292.73 547.29L293.06 547.35L293.4 547.41L293.73 547.47L294.06 547.53L294.39 547.59L294.72 547.66L295.05 547.72L295.38 547.79L295.71 547.85L296.04 547.92L296.37 547.99L296.7 548.06L297.04 548.13L297.37 548.2L297.7 548.27L298.03 548.35L298.36 548.42L298.69 548.5L299.02 548.58L299.35 548.66L299.68 548.74L300.01 548.82L300.35 548.91L300.68 548.99L301.01 549.08L301.34 549.17L301.67 549.27L302 549.36L302.33 549.46L302.66 549.56L302.99 549.66L303.32 549.76L303.66 549.86L303.99 549.96L304.32 550.06L304.65 550.16L304.98 550.26L305.31 550.36L305.64 550.46L305.97 550.56L306.3 550.66L306.63 550.76L306.97 550.86L307.3 550.96L307.63 551.06L307.96 551.16L308.29 551.26L308.62 551.37L308.95 551.47L309.28 551.57L309.61 551.67L309.94 551.78L310.28 551.88L310.61 551.99L310.94 552.09L311.27 552.2L311.6 552.3L311.93 552.41L312.26 552.51L312.59 552.62L312.92 552.73L313.25 552.84L313.59 552.94L313.92 553.05L314.25 553.16L314.58 553.27L314.91 553.38L315.24 553.5L315.57 553.61L315.9 553.72L316.23 553.83L316.56 553.95L316.9 554.06L317.23 554.18L317.56 554.3L317.89 554.41L318.22 554.53L318.55 554.65L318.88 554.77L319.21 554.89L319.54 555.01L319.87 555.14L320.21 555.26L320.54 555.38L320.87 555.51L321.2 555.64L321.53 555.76L321.86 555.89" fill="none" stroke="#000" stroke-width="1.9" stroke-linejoin="round"/>
<path d="M90.5 529.02V536.34M87.1 529.02h6.8M87.1 536.34h6.8M129.06 488.4V497.94M125.66 488.4h6.8M125.66 497.94h6.8M148.34 490.15V499.69M144.94 490.15h6.8M144.94 499.69h6.8M157.98 477.19V487.84M154.58 477.19h6.8M154.58 487.84h6.8M167.62 464.63V476.55M164.22 464.63h6.8M164.22 476.55h6.8M186.9 400.07V415.97M183.5 400.07h6.8M183.5 415.97h6.8M196.54 378.45V397.53M193.14 378.45h6.8M193.14 397.53h6.8M206.18 457.71V470.43M202.78 457.71h6.8M202.78 470.43h6.8M215.82 485.38V495.39M212.42 485.38h6.8M212.42 495.39h6.8M225.46 477.98V488.32M222.06 477.98h6.8M222.06 488.32h6.8M235.1 464.55V476.47M231.7 464.55h6.8M231.7 476.47h6.8M244.74 415.26V430.68M241.34 415.26h6.8M241.34 430.68h6.8M254.38 443.64V457.47M250.98 443.64h6.8M250.98 457.47h6.8M264.02 503.02V510.98M260.62 503.02h6.8M260.62 510.98h6.8M273.66 536.57V542.93M270.26 536.57h6.8M270.26 542.93h6.8M283.3 542.3V548.66M279.9 542.3h6.8M279.9 548.66h6.8M302.58 546.35V552.71M299.18 546.35h6.8M299.18 552.71h6.8" stroke="#000" stroke-width="1.55" fill="none"/>
<path d="M87.3 529.48h6.4v6.4h-6.4zM125.86 489.97h6.4v6.4h-6.4zM145.14 491.72h6.4v6.4h-6.4zM154.78 479.31h6.4v6.4h-6.4zM164.42 467.39h6.4v6.4h-6.4zM183.7 404.82h6.4v6.4h-6.4zM193.34 384.79h6.4v6.4h-6.4zM202.98 460.87h6.4v6.4h-6.4zM212.62 487.18h6.4v6.4h-6.4zM222.26 479.95h6.4v6.4h-6.4zM231.9 467.31h6.4v6.4h-6.4zM241.54 419.77h6.4v6.4h-6.4zM251.18 447.36h6.4v6.4h-6.4zM260.82 503.8h6.4v6.4h-6.4zM270.46 536.55h6.4v6.4h-6.4zM280.1 542.28h6.4v6.4h-6.4zM299.38 546.33h6.4v6.4h-6.4z" fill="#000"/>
<text x="98.2" y="368" font-size="23.1">(c) 6.4 %, 18 mT</text>
<clipPath id="cd"><rect x="411.5" y="332" width="231.6" height="231.5"/></clipPath>
<path d="M453.92 563.5L453.92 479.37L454.24 480.27L454.57 481.2L454.89 482.13L455.22 483.06L455.54 483.96L455.87 484.83L456.19 485.64L456.52 486.39L456.84 487.05L457.17 487.61L457.49 488.06L457.82 488.38L458.14 488.55L458.47 488.56L458.79 488.4L459.12 488.04L459.44 487.48L459.77 486.69L460.09 485.7L460.42 484.63L460.74 483.51L461.07 482.33L461.39 481.11L461.72 479.83L462.04 478.51L462.37 477.14L462.69 475.74L463.01 474.3L463.34 472.82L463.66 471.31L463.99 469.78L464.31 468.21L464.64 466.63L464.96 465.02L465.29 463.4L465.61 461.76L465.94 460.11L466.26 458.46L466.59 456.79L466.91 455.12L467.24 453.46L467.56 451.79L467.89 450.13L468.21 448.48L468.54 446.83L468.86 445.2L469.19 443.59L469.51 442L469.84 440.38L470.16 438.66L470.49 436.85L470.81 434.96L471.14 433L471.46 430.97L471.79 428.89L472.11 426.76L472.44 424.58L472.76 422.38L473.09 420.15L473.41 417.91L473.74 415.67L474.06 413.42L474.39 411.19L474.71 408.97L475.04 406.78L475.36 404.63L475.69 402.52L476.01 400.46L476.34 398.47L476.66 396.54L476.99 394.69L477.31 392.92L477.64 391.25L477.96 389.68L478.29 388.22L478.61 386.88L478.94 385.67L479.26 384.63L479.59 385.03L479.59 563.5z" fill="#7b68ee"/>
<path d="M562.19 563.5L562.19 520.77L562.87 519.55L563.56 518.44L564.24 517.46L564.93 516.66L565.61 516.07L566.29 515.72L566.98 515.47L567.66 515.26L568.35 515.1L569.03 514.96L569.71 514.85L570.4 514.74L571.08 514.63L571.77 514.5L572.45 514.35L573.13 514.18L573.82 513.95L574.5 513.68L575.19 513.34L575.87 512.93L576.56 512.47L577.24 511.99L577.92 511.49L578.61 510.97L579.29 510.44L579.98 509.89L580.66 509.34L581.34 508.79L582.03 508.25L582.71 507.71L583.4 507.19L584.08 506.68L584.76 506.19L585.45 505.73L586.13 505.33L586.82 504.99L587.5 504.7L588.18 504.47L588.87 504.26L589.55 504.09L590.24 503.93L590.92 503.79L591.6 503.64L592.29 503.48L592.97 503.29L593.66 503.08L594.34 502.83L595.02 502.53L595.71 501.92L596.39 500.85L597.08 499.4L597.76 497.66L598.44 495.72L599.13 493.66L599.81 491.57L600.5 489.53L601.18 487.63L601.86 485.96L602.55 484.6L603.23 483.64L603.92 483.17L604.6 483.27L605.29 483.93L605.97 485.02L606.65 486.48L607.34 488.25L608.02 490.26L608.71 492.44L609.39 494.75L610.07 497.12L610.76 499.53L611.44 501.98L612.13 504.43L612.81 506.87L613.49 509.28L614.18 511.64L614.86 513.94L615.55 516.23L616.23 518.5L616.23 563.5z" fill="#7b68ee"/>
<rect x="411.5" y="332" width="231.6" height="231.5" fill="none" stroke="#363636" stroke-width="1.3"/>
<path d="M421.3 563.5v-10M421.3 332v10M459.9 563.5v-10M459.9 332v10M498.5 563.5v-10M498.5 332v10M537.1 563.5v-10M537.1 332v10M575.7 563.5v-10M575.7 332v10M614.3 563.5v-10M614.3 332v10M411.5 563.05h10M643.1 563.05h-10M411.5 520.32h10M643.1 520.32h-10M411.5 477.59h10M643.1 477.59h-10M411.5 434.86h10M643.1 434.86h-10M411.5 392.13h10M643.1 392.13h-10M411.5 349.4h10M643.1 349.4h-10" stroke="#505050" stroke-width="1.05" fill="none"/>
<g font-size="18.6" fill="#000">
<text x="421.3" y="587.2" text-anchor="middle">44</text>
<text x="459.9" y="587.2" text-anchor="middle">46</text>
<text x="498.5" y="587.2" text-anchor="middle">48</text>
<text x="537.1" y="587.2" text-anchor="middle">50</text>
<text x="575.7" y="587.2" text-anchor="middle">52</text>
<text x="614.3" y="587.2" text-anchor="middle">54</text>
<text x="400.5" y="569.3" text-anchor="end">0.0</text>
<text x="400.5" y="526.57" text-anchor="end">0.1</text>
<text x="400.5" y="483.84" text-anchor="end">0.2</text>
<text x="400.5" y="441.11" text-anchor="end">0.3</text>
<text x="400.5" y="398.38" text-anchor="end">0.4</text>
<text x="400.5" y="355.65" text-anchor="end">0.5</text>
</g>
<text x="527.3" y="616.7" font-size="23.1" text-anchor="middle">T (K)</text>
<g transform="translate(0 314.4)" fill="none" stroke="#000" stroke-linecap="round">
<path d="M343.3 169.7Q343.5 167.7 345.6 166.9L358.9 162.3" stroke-width="1.75"/>
<path d="M352 165.7L358.9 172.3" stroke-width="1.35"/>
</g>
<text transform="translate(358.6 470.6) rotate(-90)" font-size="23.1" letter-spacing="0.35">(MHz)</text>
<path clip-path="url(#cd)" d="M421.3 515.09L421.66 515.09L422.02 515.07L422.38 515.04L422.74 514.99L423.09 514.93L423.45 514.85L423.81 514.76L424.17 514.66L424.53 514.54L424.89 514.41L425.25 514.27L425.61 514.12L425.97 513.95L426.33 513.77L426.68 513.58L427.04 513.38L427.4 513.16L427.76 512.94L428.12 512.7L428.48 512.45L428.84 512.2L429.2 511.93L429.56 511.65L429.91 511.36L430.27 511.06L430.63 510.76L430.99 510.44L431.35 510.12L431.71 509.78L432.07 509.44L432.43 509.09L432.79 508.73L433.15 508.36L433.5 507.99L433.86 507.61L434.22 507.22L434.58 506.82L434.94 506.42L435.3 506.01L435.66 505.6L436.02 505.18L436.38 504.75L436.73 504.32L437.09 503.88L437.45 503.44L437.81 502.99L438.17 502.54L438.53 502.08L438.89 501.62L439.25 501.15L439.61 500.68L439.96 500.21L440.32 499.74L440.68 499.25L441.04 498.72L441.4 498.11L441.76 497.43L442.12 496.68L442.48 495.88L442.84 495.03L443.2 494.13L443.55 493.19L443.91 492.22L444.27 491.22L444.63 490.19L444.99 489.15L445.35 488.1L445.71 487.04L446.07 485.98L446.43 484.93L446.78 483.89L447.14 482.86L447.5 481.86L447.86 480.89L448.22 479.96L448.58 479.06L448.94 478.21L449.3 477.41L449.66 476.67L450.02 475.99L450.37 475.39L450.73 475.01L451.09 474.86L451.45 474.91L451.81 475.16L452.17 475.58L452.53 476.15L452.89 476.85L453.25 477.65L453.6 478.54L453.96 479.5L454.32 480.5L454.68 481.52L455.04 482.56L455.4 483.57L455.76 484.54L456.12 485.46L456.48 486.3L456.84 487.04L457.19 487.66L457.55 488.13L457.91 488.44L458.27 488.58L458.63 488.5L458.99 488.2L459.35 487.66L459.71 486.85L460.07 485.78L460.42 484.6L460.78 483.36L461.14 482.05L461.5 480.67L461.86 479.24L462.22 477.76L462.58 476.22L462.94 474.64L463.3 473.02L463.66 471.36L464.01 469.66L464.37 467.93L464.73 466.17L465.09 464.39L465.45 462.59L465.81 460.78L466.17 458.95L466.53 457.11L466.89 455.27L467.24 453.43L467.6 451.59L467.96 449.75L468.32 447.93L468.68 446.12L469.04 444.33L469.4 442.56L469.76 440.79L470.12 438.91L470.47 436.93L470.83 434.84L471.19 432.66L471.55 430.41L471.91 428.09L472.27 425.71L472.63 423.29L472.99 420.84L473.35 418.37L473.71 415.89L474.06 413.41L474.42 410.94L474.78 408.5L475.14 406.09L475.5 403.73L475.86 401.42L476.22 399.19L476.58 397.03L476.94 394.97L477.29 393.01L477.65 391.17L478.01 389.44L478.37 387.86L478.73 386.42L479.09 385.15L479.45 384.61L479.81 386.38L480.17 390.23L480.53 395.8L480.88 402.75L481.24 410.74L481.6 419.42L481.96 428.44L482.32 437.46L482.68 446.13L483.04 454.1L483.4 461.04L483.76 466.59L484.11 470.47L484.47 473.81L484.83 477.14L485.19 480.44L485.55 483.68L485.91 486.83L486.27 489.89L486.63 492.81L486.99 495.59L487.35 498.19L487.7 500.6L488.06 502.8L488.42 504.75L488.78 506.44L489.14 507.95L489.5 509.47L489.86 511.01L490.22 512.54L490.58 514.08L490.93 515.6L491.29 517.12L491.65 518.62L492.01 520.1L492.37 521.55L492.73 522.96L493.09 524.34L493.45 525.67L493.81 526.95L494.17 528.18L494.52 529.34L494.88 530.44L495.24 531.47L495.6 532.42L495.96 533.28L496.32 534.06L496.68 534.74L497.04 535.33L497.4 535.81L497.75 536.17L498.11 536.43L498.47 536.56L498.83 536.61L499.19 536.67L499.55 536.72L499.91 536.78L500.27 536.83L500.63 536.88L500.98 536.92L501.34 536.97L501.7 537.01L502.06 537.05L502.42 537.09L502.78 537.13L503.14 537.17L503.5 537.21L503.86 537.24L504.22 537.27L504.57 537.3L504.93 537.33L505.29 537.36L505.65 537.38L506.01 537.41L506.37 537.43L506.73 537.45L507.09 537.47L507.45 537.48L507.8 537.5L508.16 537.51L508.52 537.53L508.88 537.54L509.24 537.55L509.6 537.55L509.96 537.56L510.32 537.56L510.68 537.56L511.04 537.57L511.39 537.57L511.75 537.56L512.11 537.56L512.47 537.55L512.83 537.55L513.19 537.54L513.55 537.53L513.91 537.52L514.27 537.5L514.62 537.49L514.98 537.47L515.34 537.45L515.7 537.43L516.06 537.41L516.42 537.39L516.78 537.37L517.14 537.34L517.5 537.31L517.86 537.29L518.21 537.26L518.57 537.23L518.93 537.19L519.29 537.16L519.65 537.13L520.01 537.1L520.37 537.06L520.73 537.03L521.09 536.99L521.44 536.95L521.8 536.91L522.16 536.88L522.52 536.84L522.88 536.79L523.24 536.75L523.6 536.71L523.96 536.67L524.32 536.62L524.68 536.58L525.03 536.53L525.39 536.48L525.75 536.43L526.11 536.38L526.47 536.33L526.83 536.28L527.19 536.22L527.55 536.17L527.91 536.11L528.26 536.06L528.62 536L528.98 535.94L529.34 535.88L529.7 535.82L530.06 535.75L530.42 535.69L530.78 535.62L531.14 535.56L531.49 535.49L531.85 535.42L532.21 535.35L532.57 535.28L532.93 535.2L533.29 535.13L533.65 535.05L534.01 534.98L534.37 534.9L534.73 534.82L535.08 534.73L535.44 534.65L535.8 534.57L536.16 534.48L536.52 534.39L536.88 534.3L537.24 534.2L537.6 533.99L537.96 533.66L538.31 533.21L538.67 532.66L539.03 532.01L539.39 531.27L539.75 530.46L540.11 529.59L540.47 528.66L540.83 527.68L541.19 526.67L541.55 525.64L541.9 524.58L542.26 523.52L542.62 522.47L542.98 521.43L543.34 520.41L543.7 519.42L544.06 518.48L544.42 517.59L544.78 516.77L545.13 516.02L545.49 515.35L545.85 514.78L546.21 514.3L546.57 513.94L546.93 513.71L547.29 513.66L547.65 513.77L548.01 514.04L548.37 514.44L548.72 514.97L549.08 515.62L549.44 516.36L549.8 517.18L550.16 518.08L550.52 519.03L550.88 520.02L551.24 521.03L551.6 522.06L551.95 523.09L552.31 524.1L552.67 525.08L553.03 526.02L553.39 526.9L553.75 527.71L554.11 528.43L554.47 529.04L554.83 529.55L555.19 529.92L555.54 530.16L555.9 530.23L556.26 530.13L556.62 529.88L556.98 529.54L557.34 529.15L557.7 528.71L558.06 528.22L558.42 527.68L558.77 527.11L559.13 526.5L559.49 525.86L559.85 525.21L560.21 524.54L560.57 523.85L560.93 523.16L561.29 522.47L561.65 521.79L562.01 521.11L562.36 520.45L562.72 519.81L563.08 519.2L563.44 518.62L563.8 518.07L564.16 517.57L564.52 517.11L564.88 516.71L565.24 516.36L565.59 516.08L565.95 515.87L566.31 515.71L566.67 515.57L567.03 515.45L567.39 515.34L567.75 515.24L568.11 515.15L568.47 515.07L568.82 515L569.18 514.94L569.54 514.88L569.9 514.82L570.26 514.76L570.62 514.7L570.98 514.64L571.34 514.58L571.7 514.51L572.06 514.44L572.41 514.36L572.77 514.27L573.13 514.18L573.49 514.07L573.85 513.94L574.21 513.8L574.57 513.65L574.93 513.48L575.29 513.28L575.64 513.07L576 512.84L576.36 512.6L576.72 512.36L577.08 512.11L577.44 511.85L577.8 511.58L578.16 511.31L578.52 511.04L578.88 510.76L579.23 510.48L579.59 510.2L579.95 509.91L580.31 509.62L580.67 509.34L581.03 509.05L581.39 508.76L581.75 508.47L582.11 508.19L582.46 507.91L582.82 507.63L583.18 507.35L583.54 507.08L583.9 506.81L584.26 506.55L584.62 506.29L584.98 506.05L585.34 505.8L585.7 505.58L586.05 505.37L586.41 505.18L586.77 505.01L587.13 504.85L587.49 504.71L587.85 504.58L588.21 504.46L588.57 504.35L588.93 504.25L589.28 504.16L589.64 504.07L590 503.99L590.36 503.91L590.72 503.83L591.08 503.75L591.44 503.67L591.8 503.59L592.16 503.51L592.52 503.42L592.87 503.32L593.23 503.22L593.59 503.1L593.95 502.98L594.31 502.84L594.67 502.69L595.03 502.53L595.39 502.27L595.75 501.87L596.1 501.35L596.46 500.71L596.82 499.98L597.18 499.15L597.54 498.25L597.9 497.28L598.26 496.26L598.62 495.21L598.98 494.12L599.33 493.03L599.69 491.93L600.05 490.84L600.41 489.77L600.77 488.75L601.13 487.76L601.49 486.84L601.85 486L602.21 485.24L602.57 484.57L602.92 484.02L603.28 483.59L603.64 483.29L604 483.15L604.36 483.16L604.72 483.35L605.08 483.68L605.44 484.14L605.8 484.71L606.15 485.38L606.51 486.16L606.87 487.02L607.23 487.96L607.59 488.97L607.95 490.04L608.31 491.16L608.67 492.32L609.03 493.51L609.39 494.73L609.74 495.97L610.1 497.22L610.46 498.49L610.82 499.76L611.18 501.04L611.54 502.33L611.9 503.62L612.26 504.9L612.62 506.18L612.97 507.46L613.33 508.72L613.69 509.97L614.05 511.21L614.41 512.42L614.77 513.63L615.13 514.84L615.49 516.04L615.85 517.23L616.21 518.42L616.56 519.6L616.92 520.78L617.28 521.95L617.64 523.11L618 524.27L618.36 525.42L618.72 526.56L619.08 527.69L619.44 528.81L619.79 529.93L620.15 531.03L620.51 532.13L620.87 533.21L621.23 534.29L621.59 535.35L621.95 536.4L622.31 537.44L622.67 538.47L623.03 539.49L623.38 540.49L623.74 541.48L624.1 542.46L624.46 543.39L624.82 544.29L625.18 545.14L625.54 545.94L625.9 546.71L626.26 547.44L626.61 548.12L626.97 548.76L627.33 549.36L627.69 549.91L628.05 550.43L628.41 550.9L628.77 551.34L629.13 551.73L629.49 552.08L629.84 552.39L630.2 552.66L630.56 552.89L630.92 553.08L631.28 553.23L631.64 553.34L632 553.41L632.36 553.44L632.72 553.42L633.08 553.37L633.43 553.28L633.79 553.16L634.15 553.03L634.51 552.89L634.87 552.74L635.23 552.59L635.59 552.43L635.95 552.27L636.31 552.1L636.66 551.93L637.02 551.76L637.38 551.58L637.74 551.39L638.1 551.2L638.46 551.01L638.82 550.82L639.18 550.62L639.54 550.42L639.9 550.22L640.25 550.01L640.61 549.81L640.97 549.6L641.33 549.39L641.69 549.18L642.05 548.97L642.41 548.76L642.77 548.54L643.13 548.33L643.48 548.12L643.84 547.9L644.2 547.69L644.56 547.48L644.92 547.27L645.28 547.06L645.64 546.86L646 546.65L646.36 546.45L646.72 546.25L647.07 546.05L647.43 545.85L647.79 545.66L648.15 545.47L648.51 545.28L648.87 545.1L649.23 544.92L649.59 544.75L649.95 544.58L650.3 544.42L650.66 544.26L651.02 544.1L651.38 543.96L651.74 543.81L652.1 543.68L652.46 543.55L652.82 543.42L653.18 543.3L653.54 543.18L653.89 543.06L654.25 542.94L654.61 542.82L654.97 542.7L655.33 542.57L655.69 542.45L656.05 542.33L656.41 542.21L656.77 542.08L657.12 541.96L657.48 541.83L657.84 541.71L658.2 541.59L658.56 541.46L658.92 541.34L659.28 541.22L659.64 541.09L660 540.97L660.35 540.85L660.71 540.73L661.07 540.6L661.43 540.48L661.79 540.36L662.15 540.24L662.51 540.12L662.87 540.01L663.23 539.89L663.59 539.77L663.94 539.66L664.3 539.54L664.66 539.43L665.02 539.32L665.38 539.21L665.74 539.1L666.1 538.99L666.46 538.88L666.82 538.78L667.17 538.67L667.53 538.57L667.89 538.47L668.25 538.37L668.61 538.28L668.97 538.18L669.33 538.09L669.69 537.99L670.05 537.91L670.41 537.82L670.76 537.73L671.12 537.65L671.48 537.57L671.84 537.49L672.2 537.41" fill="none" stroke="#000" stroke-width="1.9" stroke-linejoin="round"/>
<path d="M421.3 506.65V523.54M417.9 506.65h6.8M417.9 523.54h6.8M440.6 491.23V507.51M437.2 491.23h6.8M437.2 507.51h6.8M450.25 467.02V484.16M446.85 467.02h6.8M446.85 484.16h6.8M459.9 479.19V493.41M456.5 479.19h6.8M456.5 493.41h6.8M469.55 434.11V449.53M466.15 434.11h6.8M466.15 449.53h6.8M479.2 377.76V391.81M475.8 377.76h6.8M475.8 391.81h6.8M484.03 464.27V474.99M480.63 464.27h6.8M480.63 474.99h6.8M488.85 501.81V511.67M485.45 501.81h6.8M485.45 511.67h6.8M498.5 531.42V541.7M495.1 531.42h6.8M495.1 541.7h6.8M517.8 532.15V542.43M514.4 532.15h6.8M514.4 542.43h6.8M537.1 528.03V540.46M533.7 528.03h6.8M533.7 540.46h6.8M546.75 506.1V521.52M543.35 506.1h6.8M543.35 521.52h6.8M556.4 524.18V535.92M553 524.18h6.8M553 535.92h6.8M566.05 508.32V523.32M562.65 508.32h6.8M562.65 523.32h6.8M575.7 505.75V520.32M572.3 505.75h6.8M572.3 520.32h6.8M585.35 498.3V513.29M581.95 498.3h6.8M581.95 513.29h6.8M595 494.83V510.25M591.6 494.83h6.8M591.6 510.25h6.8M604.65 475.93V490.67M601.25 475.93h6.8M601.25 490.67h6.8M609.48 488.31V501.77M606.08 488.31h6.8M606.08 501.77h6.8M614.3 505.62V518.48M610.9 505.62h6.8M610.9 518.48h6.8M623.95 536.05V548.05M620.55 536.05h6.8M620.55 548.05h6.8M633.6 546.8V559.66M630.2 546.8h6.8M630.2 559.66h6.8" stroke="#000" stroke-width="1.55" fill="none"/>
<path d="M418.1 511.89h6.4v6.4h-6.4zM437.4 496.17h6.4v6.4h-6.4zM447.05 472.39h6.4v6.4h-6.4zM456.7 483.1h6.4v6.4h-6.4zM466.35 438.62h6.4v6.4h-6.4zM476 381.59h6.4v6.4h-6.4zM480.83 466.43h6.4v6.4h-6.4zM485.65 503.54h6.4v6.4h-6.4zM495.3 533.36h6.4v6.4h-6.4zM514.6 534.09h6.4v6.4h-6.4zM533.9 531.05h6.4v6.4h-6.4zM543.55 510.61h6.4v6.4h-6.4zM553.2 526.85h6.4v6.4h-6.4zM562.85 512.62h6.4v6.4h-6.4zM572.5 509.84h6.4v6.4h-6.4zM582.15 502.6h6.4v6.4h-6.4zM591.8 499.34h6.4v6.4h-6.4zM601.45 480.1h6.4v6.4h-6.4zM606.27 491.84h6.4v6.4h-6.4zM611.1 508.85h6.4v6.4h-6.4zM620.75 538.85h6.4v6.4h-6.4zM630.4 550.03h6.4v6.4h-6.4z" fill="#000"/>
<text x="429.6" y="368" font-size="23.1">(d) 10.5 %, 16 mT</text>
</svg></body></html>
